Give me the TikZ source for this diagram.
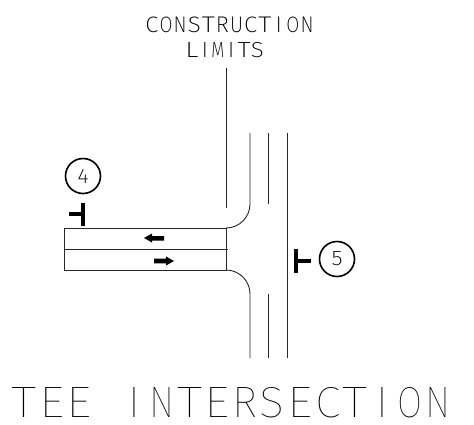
\documentclass[tikz,border=0pt]{standalone}
\usepackage{fontspec}
\usepackage{graphicx}
\newfontfamily\cadfont{Fira Sans ExtraLight}
\newfontfamily\cadthin{Fira Sans Thin}
\makeatletter
% set each letter in a fixed cell, as a plotted CAD lettering does
\newcommand{\cadword}[6]{% font, size, pitch, width, height, letters
  \@tfor\cad@x:=#6\do{%
    \makebox[#3][c]{\fontsize{#2}{#2}#1%
      \if I\cad@x\resizebox{!}{#5}{\cad@x}\else\resizebox{#4}{#5}{\cad@x}\fi}}}
\makeatother
\tikzset{
  road/.style={line width=0.9pt,black!85},
  cadtext/.style={inner sep=0pt,anchor=base},
  bubble/.style={circle,draw,line width=1.6pt,minimum size=35pt,inner sep=0pt},
  barfill/.style={fill=black,draw=none},
  arrowfill/.style={fill=black,draw=none}
}
\begin{document}
\begin{tikzpicture}[x=1pt,y=-1pt]
\useasboundingbox (0,0) rectangle (474,424);
% texts
\node[cadtext] (c1) at (229.5,32) {\cadword{\cadfont}{22pt}{14.1pt}{13pt}{15.5pt}{CONSTRUCTION}};
\node[cadtext] (c2) at (224.5,57) {\cadword{\cadfont}{22pt}{13.1pt}{13pt}{15pt}{LIMITS}};
\node[cadtext] (title) at (231,417) {\cadword{\cadthin}{44pt}{27.6pt}{25pt}{30pt}{TEE}\hspace{27.6pt}\cadword{\cadthin}{44pt}{27.6pt}{25pt}{30pt}{INTERSECTION}};
% bubbles
\node[bubble] (b4) at (83,176) {\cadword{\cadfont}{22pt}{12pt}{11pt}{14pt}{4}};
\node[bubble] (b5) at (337,259) {\cadword{\cadfont}{22pt}{12pt}{11pt}{14pt}{5}};
% leg
\draw[road] (64,228) rectangle (226,270);
\draw[road] (64,249) -- (228,249);
% construction limit
\draw[road] (226,68) -- (226,208);
% main road and returns
\draw[road] (226,228) arc[start angle=90,end angle=0,radius=24] -- (250,133);
\draw[road] (226,270) arc[start angle=-90,end angle=0,radius=24] -- (250,358);
\draw[road] (268,133) -- (268,204);
\draw[road] (268,294) -- (268,358);
\draw[road] (287,133) -- (287,358);
% section marks
\fill[barfill] (81,203) rectangle (85,226);
\fill[barfill] (69,212) rectangle (83,216);
\fill[barfill] (294,249) rectangle (298,273);
\fill[barfill] (296,259) rectangle (311,263);
% arrows
\fill[arrowfill] (144,238) -- (152,233.5) -- (152,236) -- (164,236) -- (164,240.5) -- (152,240.5) -- (152,242.5) -- cycle;
\fill[arrowfill] (174,261) -- (166,256.5) -- (166,258.7) -- (154,258.7) -- (154,263.3) -- (166,263.3) -- (166,265.5) -- cycle;
\end{tikzpicture}
\end{document}
